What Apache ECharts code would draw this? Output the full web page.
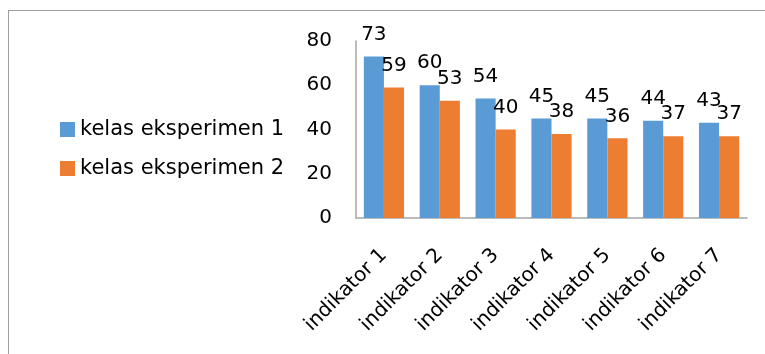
<!DOCTYPE html>
<html>
<head>
<meta charset="utf-8">
<script src="https://cdn.jsdelivr.net/npm/echarts@6/dist/echarts.min.js"></script>
<style>
  html, body { margin: 0; padding: 0; background: #fff; }
  #wrap { position: relative; width: 765px; height: 354px; }
  #frame { position: absolute; left: 8px; top: 10px; right: 0; bottom: 0;
           border-top: 1.5px solid #a0a0a0; border-left: 1.5px solid #a0a0a0; }
  #main { position: absolute; left: 0; top: 0; width: 765px; height: 354px; }
</style>
</head>
<body>
<div id="wrap">
  <div id="frame"></div>
  <div id="main"></div>
</div>
<script>
var categories = ["indikator 1", "indikator 2", "indikator 3", "indikator 4", "indikator 5", "indikator 6", "indikator 7"];
var kelas1 = [73, 60, 54, 45, 45, 44, 43];
var kelas2 = [59, 53, 40, 38, 36, 37, 37];
var seriesNames = ["kelas eksperimen 1", "kelas eksperimen 2"];

var font = "'DejaVu Sans', sans-serif";
var chart = echarts.init(document.getElementById("main"));

var labelStyle = {
    show: true,
    position: "top",
    distance: 12,
    color: "#000",
    fontSize: 20,
    fontFamily: font
};

var option = {
    animation: false,
    backgroundColor: "transparent",
    legend: {
        orient: "vertical",
        left: 55,
        top: 114,
        itemWidth: 15,
        itemHeight: 15,
        itemGap: 18,
        icon: "rect",
        textStyle: { color: "#000", fontSize: 21, fontFamily: font },
        data: seriesNames
    },
    grid: { left: 356, right: 18, top: 41, bottom: 136, containLabel: false },
    xAxis: {
        type: "category",
        data: categories,
        axisLine: { lineStyle: { color: "#a6a6a6", width: 1.5 } },
        axisTick: { show: false },
        axisLabel: { rotate: 45, color: "#000", fontSize: 20, fontFamily: font, margin: 34, interval: 0 }
    },
    yAxis: {
        type: "value",
        min: 0,
        max: 80,
        interval: 20,
        axisLine: { show: true, lineStyle: { color: "#a6a6a6", width: 1.5 } },
        axisTick: { show: false },
        splitLine: { show: false },
        axisLabel: { color: "#000", fontSize: 20, fontFamily: font, margin: 24 }
    },
    series: [
        {
            name: seriesNames[0],
            type: "bar",
            data: kelas1,
            barGap: "0%",
            barCategoryGap: "28%",
            itemStyle: { color: "#5B9BD5" },
            label: labelStyle
        },
        {
            name: seriesNames[1],
            type: "bar",
            data: kelas2,
            itemStyle: { color: "#ED7D31" },
            label: labelStyle
        }
    ]
};
chart.setOption(option);
</script>
</body>
</html>
